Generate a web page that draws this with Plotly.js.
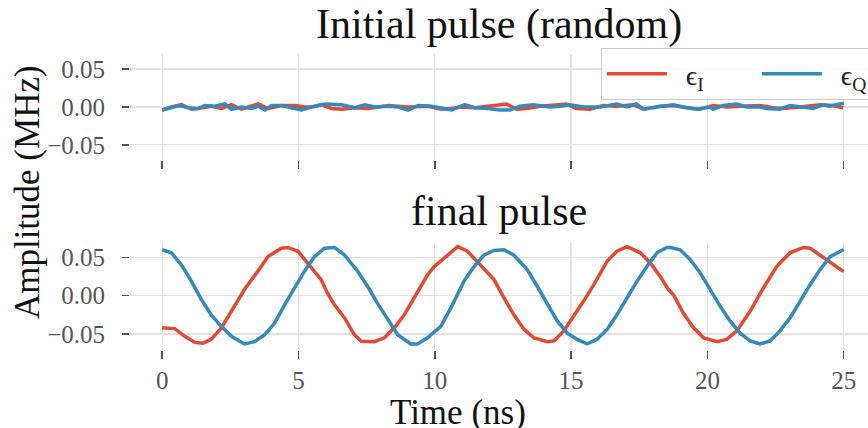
<!DOCTYPE html>
<html>
<head>
<meta charset="utf-8">
<script src="https://cdn.plot.ly/plotly-3.0.1.min.js"></script>
<style>html,body{margin:0;padding:0;background:#fff;}#chart{width:868px;height:428px;}</style>
</head>
<body>
<div id="chart"></div>
<script>
// ---- Data ----
// Initial (random) pulse
const initTimeI = [0,0.34,0.71,1.08,1.32,1.81,2.18,2.54,2.91,3.40,3.52,3.89,4.38,4.87,5.23,5.48,5.84,6.21,6.58,7.07,7.56,8.29,9.02,9.76,10.24,10.61,10.98,11.47,11.96,12.39,12.63,13.0,13.37,13.86,14.35,14.83,15.2,15.69,16.18,16.67,17.28,17.65,18.26,18.75,19.24,19.72,20.21,20.70,21.19,21.93,22.41,22.78,23.39,24.13,24.61,24.98];
const initEpsI = [-0.004,0.000,0.003,-0.003,-0.002,0.001,-0.002,0.003,-0.003,0.002,0.004,-0.002,0.002,0.002,0.000,0.000,0.003,-0.002,-0.003,-0.001,-0.002,0.002,0.000,0.001,-0.003,-0.002,0.000,-0.001,0.001,0.002,0.004,-0.003,-0.002,0.001,0.002,0.004,-0.002,-0.003,0.002,0.001,0.003,-0.003,0.001,0.002,-0.001,-0.003,0.002,0.000,0.001,0.002,-0.001,-0.002,0.000,0.003,0.002,-0.001];
const initTimeQ = [0,0.46,0.65,0.95,1.32,1.56,1.93,2.30,2.54,2.91,3.28,3.52,3.77,4.01,4.38,4.74,5.11,5.48,5.97,6.58,7.07,7.43,7.80,8.29,8.66,9.02,9.39,9.88,10.24,10.61,11.10,11.47,11.96,12.39,12.76,13.12,13.61,14.22,14.59,14.96,15.45,16.06,16.67,17.04,17.40,17.65,18.14,18.75,19.11,19.60,20.09,20.21,20.58,21.07,21.44,21.93,22.17,22.66,23.03,23.39,23.88,24.25,24.49,24.74,25.0];
const initEpsQ = [-0.004,0.000,0.002,-0.001,-0.002,0.002,0.001,0.004,-0.003,0.000,-0.002,0.001,-0.004,0.002,0.002,-0.001,-0.004,0.000,0.004,0.003,-0.001,0.003,0.000,0.001,0.000,-0.004,0.002,0.001,-0.002,-0.004,0.003,-0.001,-0.002,-0.004,-0.004,0.001,0.003,0.000,0.001,0.003,0.000,0.000,0.004,0.000,0.004,-0.003,0.000,0.003,0.000,-0.003,0.000,-0.003,0.002,0.004,0.000,0.000,-0.002,-0.003,0.002,0.000,-0.002,0.003,0.001,0.003,0.005];

// Final pulse
const finalTimeI = [0,0.46,0.83,1.2,1.5,1.8,2.17,2.66,3.02,3.51,3.88,4.37,4.61,4.98,5.46,5.83,6.07,6.32,6.69,7.05,7.3,7.78,8.15,8.52,8.88,9.37,9.73,9.98,10.35,10.84,11.2,11.69,12.17,12.54,12.9,13.27,13.64,14.13,14.37,14.73,15.1,15.46,15.83,16.32,16.68,17.05,17.54,17.9,18.27,18.57,18.76,19.12,19.49,19.86,20.35,20.71,21.08,21.57,22.05,22.54,23.03,23.52,23.77,24.13,24.5,24.93,25.0];
const finalEpsI = [-0.042,-0.043,-0.053,-0.061,-0.062,-0.057,-0.042,-0.012,0.008,0.032,0.051,0.062,0.063,0.058,0.038,0.021,0.003,-0.012,-0.029,-0.051,-0.0596,-0.060,-0.055,-0.042,-0.025,0.006,0.027,0.038,0.049,0.064,0.058,0.040,0.021,-0.003,-0.025,-0.044,-0.055,-0.060,-0.059,-0.046,-0.027,-0.007,0.014,0.045,0.058,0.064,0.056,0.043,0.025,0.008,0.001,-0.023,-0.042,-0.055,-0.060,-0.057,-0.046,-0.020,0.010,0.038,0.056,0.063,0.062,0.053,0.043,0.033,0.032];
const finalTimeQ = [0,0.34,0.71,1.07,1.44,1.8,2.17,2.54,3.02,3.39,3.76,4.12,4.49,4.85,5.22,5.59,5.95,6.32,6.69,7.17,7.54,7.9,8.27,8.64,9.12,9.37,9.73,10.22,10.59,11.07,11.44,11.8,12.17,12.54,12.9,13.39,13.76,14.13,14.49,14.86,15.22,15.59,15.95,16.32,16.68,17.05,17.42,17.78,18.15,18.51,18.64,19.0,19.37,19.73,20.1,20.47,20.83,21.2,21.57,21.93,22.3,22.66,23.03,23.39,23.76,24.13,24.5,24.93,25.0];
const finalEpsQ = [0.060,0.056,0.040,0.019,-0.005,-0.025,-0.040,-0.053,-0.063,-0.060,-0.051,-0.036,-0.012,0.010,0.032,0.051,0.062,0.063,0.053,0.032,0.012,-0.010,-0.031,-0.051,-0.063,-0.063,-0.055,-0.040,-0.016,0.019,0.038,0.053,0.059,0.060,0.053,0.034,0.012,-0.012,-0.033,-0.049,-0.057,-0.063,-0.057,-0.044,-0.025,-0.003,0.019,0.038,0.056,0.063,0.063,0.060,0.047,0.030,0.008,-0.014,-0.033,-0.049,-0.059,-0.063,-0.059,-0.046,-0.029,-0.007,0.014,0.034,0.051,0.059,0.060];

// Ticks and labels
const xTickVals = [0,5,10,15,20,25];
const xTickText = ['0','5','10','15','20','25'];
const yTickVals = [-0.05,0,0.05];
const yTickText = ['\u22120.05','0.00','0.05'];
const seriesNames = ['\u00a0\u00a0\u03f5<sub>I</sub>','\u00a0\u00a0\u03f5<sub>Q</sub>'];
const panelTitles = ['Initial pulse (random)','final pulse'];
const xLabel = 'Time (ns)';
const yLabel = 'Amplitude (MHz)';

// ---- Styling ----
const RED = '#E24A33', BLUE = '#348ABD';
const FONT = 'Liberation Serif, Times New Roman, serif';
const GRID = '#e2e2e2';

const traces = [
  {x: initTimeI, y: initEpsI, xaxis:'x', yaxis:'y', mode:'lines', name: seriesNames[0], line:{color:RED,width:3.5}, showlegend:true},
  {x: initTimeQ, y: initEpsQ, xaxis:'x', yaxis:'y', mode:'lines', name: seriesNames[1], line:{color:BLUE,width:3.5}, showlegend:true},
  {x: finalTimeI, y: finalEpsI, xaxis:'x2', yaxis:'y2', mode:'lines', name: seriesNames[0], line:{color:RED,width:3.5}, showlegend:false},
  {x: finalTimeQ, y: finalEpsQ, xaxis:'x2', yaxis:'y2', mode:'lines', name: seriesNames[1], line:{color:BLUE,width:3.5}, showlegend:false}
];

const xCommon = {
  range:[-1.18, 25.89], tickvals: xTickVals, ticktext: xTickText,
  showgrid:true, gridcolor:GRID, gridwidth:1.3, zeroline:false, showline:false,
  ticks:'outside', ticklen:8, tickwidth:1.5, tickcolor:'#555',
  tickfont:{family:FONT, size:25, color:'#555'}, ticklabelstandoff:0
};
const yCommon = {
  tickvals: yTickVals, ticktext: yTickText,
  showgrid:true, gridcolor:GRID, gridwidth:1.3, zeroline:false, showline:false,
  ticks:'outside', ticklen:7, tickwidth:1.5, tickcolor:'#555',
  tickfont:{family:FONT, size:25, color:'#555'}, ticklabelstandoff:12
};

const layout = {
  width:868, height:428,
  paper_bgcolor:'#fff', plot_bgcolor:'#fff',
  margin:{l:130, r:0, t:54, b:78, autoexpand:false},
  font:{family:FONT, color:'#222'},
  xaxis: Object.assign({}, xCommon, {domain:[0,1], anchor:'y', showticklabels:false}),
  yaxis: Object.assign({}, yCommon, {domain:[0.642,1], range:[-0.07,0.07], anchor:'x'}),
  xaxis2: Object.assign({}, xCommon, {domain:[0,1], anchor:'y2'}),
  yaxis2: Object.assign({}, yCommon, {domain:[0,0.3615], range:[-0.0709,0.0688], anchor:'x2'}),
  showlegend:true,
  legend:{
    orientation:'h', x:0.638, xanchor:'left', y:1.02, yanchor:'top',
    bgcolor:'rgba(255,255,255,0.85)', bordercolor:'#cccccc', borderwidth:1,
    font:{family:FONT, size:28, color:'#222'}, entrywidth:80, itemwidth:60
  },
  annotations:[
    {text: panelTitles[0], xref:'paper', yref:'paper', x:0.5, y:1.013, xanchor:'center', yanchor:'bottom', showarrow:false, font:{family:FONT, size:42, color:'#111'}},
    {text: panelTitles[1], xref:'paper', yref:'paper', x:0.5, y:0.385, xanchor:'center', yanchor:'bottom', showarrow:false, font:{family:FONT, size:42, color:'#111'}},
    {text: yLabel, xref:'paper', yref:'paper', x:-0.138, y:0.534, xanchor:'center', yanchor:'middle', textangle:-90, showarrow:false, font:{family:FONT, size:35, color:'#111'}},
    {text: xLabel, xref:'paper', yref:'paper', x:0.444, y:-0.1385, xanchor:'center', yanchor:'top', showarrow:false, font:{family:FONT, size:35, color:'#111'}}
  ]
};

Plotly.newPlot('chart', traces, layout, {staticPlot:true, displayModeBar:false});
</script>
</body>
</html>
